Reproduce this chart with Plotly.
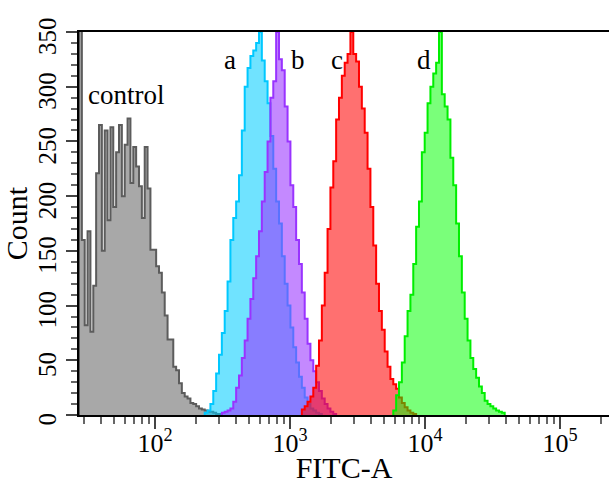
import numpy as np
import plotly.graph_objects as go

# Log-scale channel grid shared by every histogram (FITC-A)
BIN_LO = 27.35            # lower edge of channel 0
BINS_PER_DECADE = 47.25

# Counts per channel; each series starts at the given channel index
control_start = 0
control_counts = [420, 160, 82, 168, 76, 118, 221, 265, 150, 260, 178, 263, 190, 240,
                  265, 200, 247, 271, 212, 245, 227, 209, 180, 245, 207, 151, 151, 136,
                  130, 112, 91, 69, 69, 44, 41, 29, 20, 17, 15, 11, 10, 8, 6, 5, 4, 3,
                  3, 2, 1, 1]

a_start = 44
a_counts = [2, 4, 10, 22, 38, 55, 75, 95, 122, 160, 180, 195, 219, 260, 300, 317, 328,
            333, 340, 350, 324, 305, 285, 255, 225, 195, 175, 145, 120, 100, 80, 62,
            48, 35, 25, 16, 10, 6, 4, 2, 1]

b_start = 50
b_counts = [2, 3, 4, 6, 12, 25, 36, 52, 68, 88, 106, 125, 145, 168, 195, 222, 250, 290,
            305, 350, 325, 315, 282, 250, 210, 190, 160, 138, 112, 88, 65, 50, 40, 30,
            22, 15, 10, 6, 3, 1]

c_start = 78
c_counts = [5, 8, 12, 17, 25, 45, 68, 100, 130, 170, 208, 232, 270, 290, 310, 322, 330,
            350, 330, 323, 300, 280, 258, 225, 190, 155, 120, 95, 78, 58, 44, 33, 28,
            24, 16, 11, 7, 4, 2, 1]

d_start = 110
d_counts = [4, 18, 30, 48, 72, 95, 110, 138, 172, 195, 240, 258, 285, 300, 312, 322, 350,
            293, 282, 270, 235, 210, 175, 145, 112, 88, 68, 52, 42, 34, 26, 20, 13, 10,
            8, 6, 4, 3, 2]

labels = ["control", "a", "b", "c", "d"]
label_x = [61, 360, 1145, 2230, 9840]      # FITC-A position of each label
label_y = [277, 309, 309, 309, 309]        # count level of each label's baseline

x_tick_vals = [1e2, 1e3, 1e4, 1e5]
x_tick_text = ["10<sup>2</sup>", "10<sup>3</sup>", "10<sup>4</sup>", "10<sup>5</sup>"]

series = [
    (control_start, control_counts, "#5c5c5c", "rgba(110,110,110,0.6)"),
    (a_start, a_counts, "#00c8ff", "rgba(0,205,255,0.56)"),
    (b_start, b_counts, "#9933ff", "rgba(153,51,255,0.58)"),
    (c_start, c_counts, "#ff0000", "rgba(255,0,0,0.56)"),
    (d_start, d_counts, "#00ee00", "rgba(0,255,0,0.52)"),
]


def channel_edge(i):
    return BIN_LO * 10 ** (np.asarray(i) / BINS_PER_DECADE)


fig = go.Figure()
for start, counts, line_col, fill_col in series:
    idx = np.arange(start, start + len(counts) + 1)
    edges = channel_edge(idx)
    xs = np.concatenate([[edges[0]], edges])
    ys = np.concatenate([[0], counts, [0]])
    fig.add_trace(go.Scatter(
        x=xs, y=ys, mode="lines", line=dict(color=line_col, width=2, shape="hv"),
        fill="tozeroy", fillcolor=fill_col, hoverinfo="skip", showlegend=False,
    ))

for txt, lx, ly in zip(labels, label_x, label_y):
    fig.add_annotation(x=np.log10(lx), y=ly, text=txt, showarrow=False,
                       xanchor="center", yanchor="bottom",
                       font=dict(family="Liberation Serif", size=27, color="black"))

# minor ticks at 2..9 of every decade
minor_vals = [m * 10 ** e for e in range(1, 6) for m in range(2, 10)]

fig.update_xaxes(
    type="log", range=[np.log10(BIN_LO), 5.363], automargin=False,
    tickvals=x_tick_vals, ticktext=x_tick_text,
    ticks="outside", ticklen=12, tickwidth=1.5, tickcolor="#444",
    minor=dict(tickvals=minor_vals, ticks="outside", ticklen=7, tickwidth=1.5,
               tickcolor="#666", showgrid=False),
    ticklabelstandoff=-8,
    showline=True, linecolor="black", linewidth=2, mirror=True,
    showgrid=False, zeroline=False,
    tickfont=dict(family="Liberation Serif", size=26, color="black"),
    title=dict(text="FITC-A", font=dict(family="Liberation Serif", size=30, color="black"),
               standoff=10),
)
fig.update_yaxes(
    range=[0, 350], tickvals=list(range(0, 351, 50)), automargin=False,
    ticks="outside", ticklen=11, tickwidth=1.5, tickcolor="#444",
    minor=dict(dtick=10, ticks="outside", ticklen=6, tickwidth=1.5,
               tickcolor="#666", showgrid=False),
    tickangle=-90, ticklabelshift=8,
    showline=True, linecolor="black", linewidth=2,
    showgrid=False, zeroline=False,
    tickfont=dict(family="Liberation Serif", size=25, color="black"),
    title=dict(text="Count", font=dict(family="Liberation Serif", size=30, color="black"),
               standoff=6),
)
fig.update_layout(
    width=609, height=484,
    margin=dict(l=79, r=0, t=32, b=69),
    paper_bgcolor="white", plot_bgcolor="white",
)
fig.write_html("out.html")
